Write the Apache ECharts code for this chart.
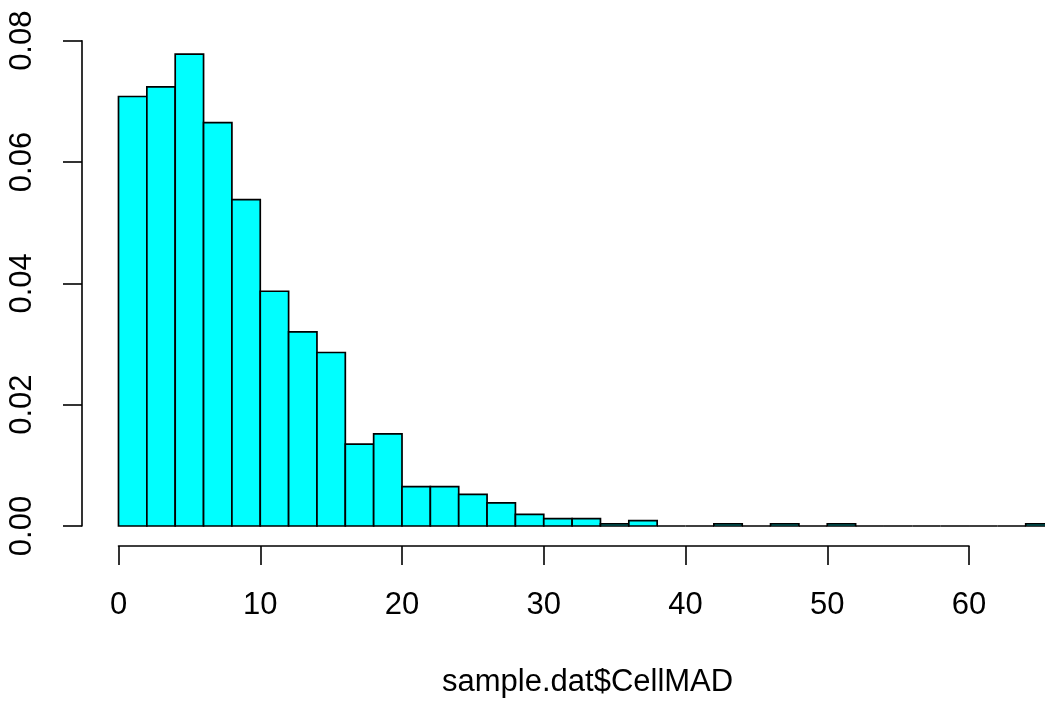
<!DOCTYPE html>
<html>
<head>
<meta charset="utf-8">
<script src="https://cdn.jsdelivr.net/npm/echarts@6/dist/echarts.min.js"></script>
<style>html,body{margin:0;padding:0;background:#fff;}#c{width:1045px;height:702px;}</style>
</head>
<body>
<div id="c"></div>
<script>
// Histogram bins (left edge, right edge) and density values
const binLeft  = [0,2,4,6,8,10,12,14,16,18,20,22,24,26,28,30,32,34,36,38,40,42,44,46,48,50,52,54,56,58,60,62,64];
const binRight = [2,4,6,8,10,12,14,16,18,20,22,24,26,28,30,32,34,36,38,40,42,44,46,48,50,52,54,56,58,60,62,64,66];
const density  = [0.0708,0.0724,0.0778,0.0665,0.0538,0.0387,0.0320,0.0286,0.0135,0.0152,
                  0.0065,0.0065,0.0052,0.0038,0.0019,0.0012,0.0012,0.00035,0.00087,0,
                  0,0.00035,0,0.00035,0,0.00035,0,0,0,0,0,0,0.00035];
const xTicks = [0,10,20,30,40,50,60];
const yTicks = [0,0.02,0.04,0.06,0.08];
const xTitle = 'sample.dat$CellMAD';

const FONT = '"Liberation Sans", Arial, Helvetica, sans-serif';
const data = binLeft.map((l,i)=>[l, binRight[i], density[i]]);

const chart = echarts.init(document.getElementById('c'), null, {renderer:'canvas'});
chart.setOption({
  animation:false,
  backgroundColor:'#fff',
  title:{text:xTitle, left:437, top:662, textStyle:{fontFamily:FONT, fontSize:31, fontWeight:'normal', color:'#000'}},
  grid:[
    {left:82, right:0, top:40.7, bottom:176},
    {left:118.5, width:850.5, top:40.7, bottom:156}
  ],
  xAxis:[
    {gridIndex:0, type:'value', min:-2.575, max:65.36, show:false},
    {gridIndex:1, type:'value', min:xTicks[0], max:xTicks[xTicks.length-1], interval:10,
     axisLine:{show:true, onZero:false, lineStyle:{color:'#000', width:1.6}},
     axisTick:{show:true, inside:false, length:19, lineStyle:{color:'#000', width:1.6}},
     axisLabel:{show:true, margin:44, fontFamily:FONT, fontSize:31, color:'#000'},
     splitLine:{show:false}}
  ],
  yAxis:[
    {gridIndex:0, type:'value', min:yTicks[0], max:yTicks[yTicks.length-1], interval:0.02,
     axisLine:{show:true, onZero:false, lineStyle:{color:'#000', width:1.6}},
     axisTick:{show:true, inside:false, length:19, lineStyle:{color:'#000', width:1.6}},
     axisLabel:{show:true, rotate:90, margin:44, fontFamily:FONT, fontSize:31, color:'#000',
                formatter:v=>v.toFixed(2)},
     splitLine:{show:false}},
    {gridIndex:1, type:'value', min:0, max:1, show:false}
  ],
  series:[{
    type:'custom',
    xAxisIndex:0, yAxisIndex:0,
    clip:false,
    encode:{x:[0,1], y:2},
    data:data,
    renderItem:function(params, api){
      const p0 = api.coord([api.value(0), api.value(2)]);
      const p1 = api.coord([api.value(1), 0]);
      return {type:'rect', shape:{x:p0[0], y:p0[1], width:p1[0]-p0[0], height:p1[1]-p0[1]},
              style:{fill:'#00FFFF', stroke:'#000', lineWidth:1.7}};
    }
  }]
});
</script>
</body>
</html>
